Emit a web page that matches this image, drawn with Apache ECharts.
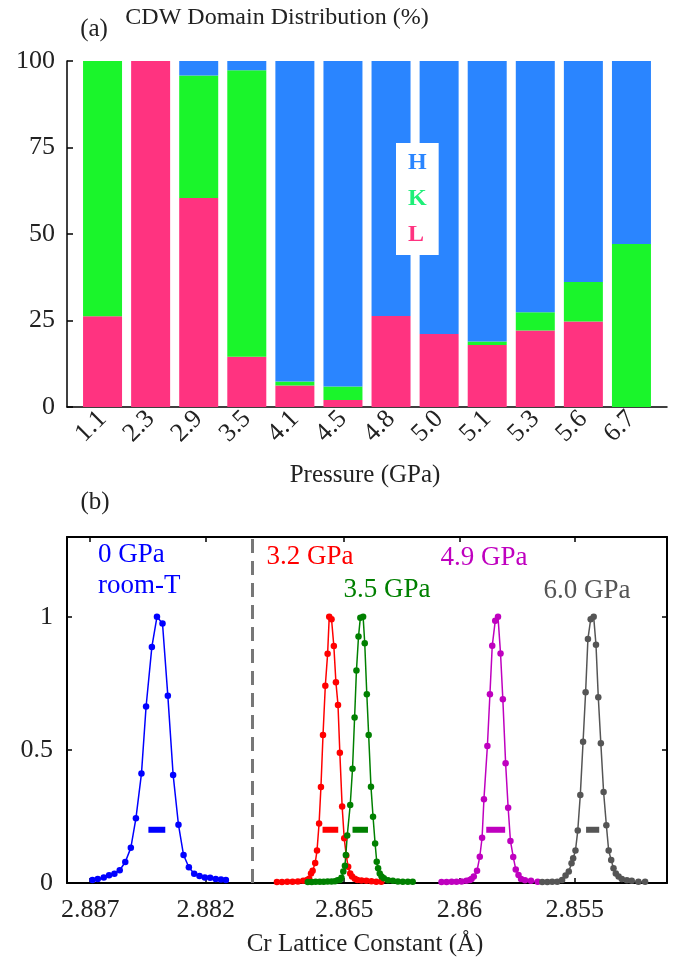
<!DOCTYPE html>
<html><head><meta charset="utf-8">
<script src="https://cdn.jsdelivr.net/npm/echarts@6/dist/echarts.min.js"></script>
<style>html,body{margin:0;padding:0;background:#fff}#c{width:677px;height:968px}</style>
</head><body><div id="c"></div>
<script>
// ---------- (a) CDW domain distribution ----------
const pressures = ['1.1','2.3','2.9','3.5','4.1','4.5','4.8','5.0','5.1','5.3','5.6','6.7'];
const domainL = [26.2, 100, 60.4, 14.5, 6.2, 2.0, 26.3, 21.1, 17.9, 22.1, 24.7, 0];
const domainK = [73.8, 0, 35.4, 82.8, 1.2, 3.9, 0, 0, 1.0, 5.3, 11.4, 47.1];
const domainH = [0, 0, 4.2, 2.7, 92.6, 94.1, 73.7, 78.9, 81.1, 72.6, 63.9, 52.9];
const pctTicks = [0, 25, 50, 75, 100];

// ---------- (b) Cr lattice constant peaks ----------
const blueX = [2.88690,2.88667,2.88641,2.88618,2.88595,2.88572,2.88548,2.88524,2.88502,2.88478,2.88458,2.88433,2.88411,2.88387,2.88364,2.88341,2.88318,2.88296,2.88273,2.88250,2.88227,2.88204,2.88181,2.88157,2.88134,2.88113];
const blueY = [0.011,0.015,0.021,0.029,0.035,0.048,0.079,0.132,0.243,0.411,0.663,0.887,1.0,0.975,0.704,0.406,0.219,0.105,0.059,0.035,0.026,0.021,0.020,0.015,0.013,0.011];

const redX = [2.86792,2.86770,2.86747,2.86724,2.86701,2.86678,2.86661,2.86652,2.86644,2.86637,2.86626,2.86618,2.86609,2.86601,2.86592,2.86582,2.86572,2.86565,2.86555,2.86545,2.86536,2.86527,2.86519,2.86509,2.86500,2.86491,2.86483,2.86474,2.86466,2.86454,2.86443,2.86425,2.86404,2.86382,2.86361,2.86339];
const redY = [0.004,0.004,0.005,0.005,0.006,0.008,0.011,0.016,0.036,0.046,0.075,0.122,0.224,0.361,0.556,0.741,0.861,1.0,0.991,0.890,0.754,0.669,0.489,0.287,0.168,0.103,0.061,0.036,0.024,0.016,0.011,0.009,0.008,0.007,0.005,0.005];

const greenX = [2.86658,2.86641,2.86624,2.86606,2.86589,2.86572,2.86555,2.86540,2.86529,2.86519,2.86512,2.86504,2.86497,2.86493,2.86487,2.86474,2.86464,2.86455,2.86447,2.86438,2.86430,2.86418,2.86411,2.86402,2.86394,2.86384,2.86375,2.86366,2.86359,2.86353,2.86346,2.86338,2.86328,2.86310,2.86289,2.86267,2.86246,2.86224,2.86203];
const greenY = [0.004,0.004,0.005,0.005,0.005,0.006,0.006,0.007,0.010,0.011,0.020,0.043,0.065,0.105,0.178,0.293,0.429,0.622,0.798,0.926,0.997,1.0,0.901,0.709,0.556,0.362,0.249,0.148,0.080,0.055,0.036,0.024,0.018,0.010,0.008,0.006,0.005,0.005,0.005];

const magentaX = [2.86078,2.86056,2.86034,2.86013,2.85991,2.85970,2.85955,2.85948,2.85938,2.85924,2.85912,2.85902,2.85894,2.85879,2.85868,2.85858,2.85845,2.85833,2.85822,2.85812,2.85800,2.85789,2.85779,2.85767,2.85756,2.85744,2.85733,2.85716,2.85690,2.85661];
const magentaY = [0.004,0.004,0.005,0.005,0.006,0.008,0.011,0.015,0.024,0.046,0.099,0.170,0.315,0.515,0.709,0.891,0.985,1.0,0.862,0.690,0.450,0.283,0.158,0.098,0.051,0.030,0.015,0.010,0.008,0.005];

const grayX = [2.85641,2.85619,2.85598,2.85576,2.85555,2.85540,2.85526,2.85514,2.85507,2.85497,2.85487,2.85476,2.85464,2.85453,2.85443,2.85431,2.85418,2.85408,2.85398,2.85387,2.85375,2.85363,2.85353,2.85342,2.85332,2.85322,2.85310,2.85296,2.85274,2.85253,2.85224,2.85195];
const grayY = [0.004,0.004,0.005,0.005,0.011,0.028,0.043,0.074,0.093,0.122,0.197,0.331,0.531,0.717,0.917,0.991,1.0,0.895,0.698,0.525,0.342,0.217,0.122,0.086,0.055,0.036,0.024,0.015,0.010,0.008,0.005,0.005];

// FWHM markers [x start, x end] at height 0.2
const fwhmLevel = 0.2;
const blueFWHM = [2.88448, 2.88375];
const redFWHM = [2.86594, 2.86526];
const greenFWHM = [2.86464, 2.86397];
const magentaFWHM = [2.85884, 2.85802];
const grayFWHM = [2.85451, 2.85394];

const leftTicks = [2.887, 2.882];
const rightTicks = [2.865, 2.86, 2.855];
const intensityTicks = [0, 0.5, 1];
const breakValue = 2.880;

const FONT = '"Liberation Serif", "Times New Roman", serif';
const TXT = '#222';

const chart = echarts.init(document.getElementById('c'), null, {renderer: 'canvas'});

const pair = (xs, ys) => xs.map((x, i) => [x, ys[i]]);

function peak(name, xs, ys, color, xi, extra) {
  return Object.assign({
    name, type: 'line', xAxisIndex: xi, yAxisIndex: xi === 1 ? 1 : 2,
    data: pair(xs, ys), symbol: 'circle', symbolSize: 6.5, showSymbol: true,
    lineStyle: {color, width: 1.5}, itemStyle: {color}, animation: false, z: 3
  }, extra || {});
}
function fwhm(name, xs, color, xi) {
  return {
    name, type: 'line', xAxisIndex: xi, yAxisIndex: xi === 1 ? 1 : 2,
    data: xs.map(x => [x, fwhmLevel]), symbol: 'none',
    lineStyle: {color, width: 6, cap: 'butt'}, animation: false, z: 4
  };
}

const frameLine = {show: true, onZero: false, lineStyle: {color: '#000', width: 2}};
const ANN = '27px ' + FONT;

const option = {
  animation: false,
  textStyle: {fontFamily: FONT},
  grid: [
    {left: 78.5, top: 61, width: 577, height: 346},
    {left: 67, top: 537, width: 185, height: 346},
    {left: 252, top: 537, width: 415, height: 346},
    {left: 67, top: 61, width: 600, height: 346}
  ],
  legend: {
    left: 396, top: 143, orient: 'vertical', icon: 'none', itemWidth: 0, itemHeight: 0,
    itemGap: 12, padding: [8, 12, 8, 7], backgroundColor: '#fff', selectedMode: false,
    textStyle: {fontFamily: FONT, fontWeight: 'bold', fontSize: 24},
    data: [
      {name: 'H', textStyle: {color: '#2A85FF'}},
      {name: 'K', textStyle: {color: '#1EEF78'}},
      {name: 'L', textStyle: {color: '#FF3380'}}
    ]
  },
  xAxis: [
    {gridIndex: 0, type: 'category', data: pressures, boundaryGap: true,
      axisLine: {show: false}, axisTick: {show: false}, splitLine: {show: false},
      axisLabel: {rotate: 45, fontSize: 26, color: TXT, margin: 8, fontFamily: FONT, interval: 0}},
    {gridIndex: 1, type: 'value', inverse: true, min: 2.880, max: 2.888, position: 'bottom',
      axisLine: frameLine, splitLine: {show: false},
      axisTick: {show: true, inside: true, length: 5, customValues: leftTicks, lineStyle: {color: '#000', width: 1.5}},
      axisLabel: {customValues: leftTicks, fontSize: 26, color: TXT, margin: 14, fontFamily: FONT, formatter: v => String(v)}},
    {gridIndex: 1, type: 'value', inverse: true, min: 2.880, max: 2.888, position: 'top',
      axisLine: frameLine, splitLine: {show: false},
      axisTick: {show: true, inside: true, length: 5, customValues: leftTicks, lineStyle: {color: '#000', width: 1.5}},
      axisLabel: {show: false}},
    {gridIndex: 2, type: 'value', inverse: true, min: 2.851, max: 2.869, position: 'bottom',
      axisLine: frameLine, splitLine: {show: false},
      axisTick: {show: true, inside: true, length: 5, customValues: rightTicks, lineStyle: {color: '#000', width: 1.5}},
      axisLabel: {customValues: rightTicks, fontSize: 26, color: TXT, margin: 14, fontFamily: FONT, formatter: v => String(v)}},
    {gridIndex: 2, type: 'value', inverse: true, min: 2.851, max: 2.869, position: 'top',
      axisLine: frameLine, splitLine: {show: false},
      axisTick: {show: true, inside: true, length: 5, customValues: rightTicks, lineStyle: {color: '#000', width: 1.5}},
      axisLabel: {show: false}},
    {gridIndex: 3, type: 'value', min: 0, max: 1, position: 'bottom',
      axisLine: {show: true, onZero: false, lineStyle: {color: '#000', width: 1.5}},
      axisTick: {show: false}, axisLabel: {show: false}, splitLine: {show: false}}
  ],
  yAxis: [
    {gridIndex: 0, type: 'value', min: 0, max: 100, interval: 25, offset: 11.5,
      axisLine: {show: true, onZero: false, lineStyle: {color: '#000', width: 1.5}},
      axisTick: {show: true, inside: true, length: 6, customValues: pctTicks, lineStyle: {color: '#000', width: 1.5}},
      splitLine: {show: false},
      axisLabel: {customValues: pctTicks, fontSize: 26, color: TXT, margin: 12, fontFamily: FONT}},
    {gridIndex: 1, type: 'value', min: 0, max: 1.3, position: 'left',
      axisLine: frameLine, splitLine: {show: false},
      axisTick: {show: true, inside: true, length: 5, customValues: intensityTicks, lineStyle: {color: '#000', width: 1.5}},
      axisLabel: {customValues: intensityTicks, fontSize: 26, color: TXT, margin: 14, fontFamily: FONT, formatter: v => String(v)}},
    {gridIndex: 2, type: 'value', min: 0, max: 1.3, position: 'right',
      axisLine: frameLine, splitLine: {show: false},
      axisTick: {show: true, inside: true, length: 5, customValues: [0.5, 1], lineStyle: {color: '#000', width: 1.5}},
      axisLabel: {show: false}},
    {gridIndex: 3, type: 'value', min: 0, max: 1, show: false}
  ],
  series: [
    {name: 'L', type: 'bar', xAxisIndex: 0, yAxisIndex: 0, stack: 'dom', barWidth: 39, data: domainL, itemStyle: {color: '#FF3380'}},
    {name: 'K', type: 'bar', xAxisIndex: 0, yAxisIndex: 0, stack: 'dom', barWidth: 39, data: domainK, itemStyle: {color: '#1AF52B'}},
    {name: 'H', type: 'bar', xAxisIndex: 0, yAxisIndex: 0, stack: 'dom', barWidth: 39, data: domainH, itemStyle: {color: '#2A85FF'}},
    peak('0 GPa', blueX, blueY, '#0000FF', 1, {
      markLine: {silent: true, symbol: 'none', label: {show: false},
        lineStyle: {color: '#777', width: 3, type: [14, 8]}, data: [{xAxis: breakValue}]}
    }),
    fwhm('fw0', blueFWHM, '#0000FF', 1),
    peak('3.2 GPa', redX, redY, '#FF0000', 3),
    peak('3.5 GPa', greenX, greenY, '#008000', 3),
    peak('4.9 GPa', magentaX, magentaY, '#BF00BF', 3),
    peak('6.0 GPa', grayX, grayY, '#555555', 3),
    fwhm('fw1', redFWHM, '#FF0000', 3),
    fwhm('fw2', greenFWHM, '#008000', 3),
    fwhm('fw3', magentaFWHM, '#BF00BF', 3),
    fwhm('fw4', grayFWHM, '#555555', 3)
  ],
  graphic: [
    {type: 'text', x: 277, y: 18, style: {text: 'CDW Domain Distribution (%)', font: '24px ' + FONT, fill: TXT, textAlign: 'center', textVerticalAlign: 'middle'}},
    {type: 'text', x: 94, y: 29, style: {text: '(a)', font: '25px ' + FONT, fill: TXT, textAlign: 'center', textVerticalAlign: 'middle'}},
    {type: 'text', x: 365, y: 475, style: {text: 'Pressure (GPa)', font: '25px ' + FONT, fill: TXT, textAlign: 'center', textVerticalAlign: 'middle'}},
    {type: 'text', x: 95, y: 502, style: {text: '(b)', font: '25px ' + FONT, fill: TXT, textAlign: 'center', textVerticalAlign: 'middle'}},
    {type: 'text', x: 365, y: 944, style: {text: 'Cr Lattice Constant (Å)', font: '25px ' + FONT, fill: TXT, textAlign: 'center', textVerticalAlign: 'middle'}},
    {type: 'text', x: 98, y: 555, style: {text: '0 GPa', font: ANN, fill: '#0000FF', textAlign: 'left', textVerticalAlign: 'middle'}},
    {type: 'text', x: 98, y: 586, style: {text: 'room-T', font: ANN, fill: '#0000FF', textAlign: 'left', textVerticalAlign: 'middle'}},
    {type: 'text', x: 310, y: 557, style: {text: '3.2 GPa', font: ANN, fill: '#FF0000', textAlign: 'center', textVerticalAlign: 'middle'}},
    {type: 'text', x: 387, y: 590, style: {text: '3.5 GPa', font: ANN, fill: '#008000', textAlign: 'center', textVerticalAlign: 'middle'}},
    {type: 'text', x: 484, y: 558, style: {text: '4.9 GPa', font: ANN, fill: '#BF00BF', textAlign: 'center', textVerticalAlign: 'middle'}},
    {type: 'text', x: 587, y: 591, style: {text: '6.0 GPa', font: ANN, fill: '#555555', textAlign: 'center', textVerticalAlign: 'middle'}}
  ]
};
chart.setOption(option);
</script></body></html>
